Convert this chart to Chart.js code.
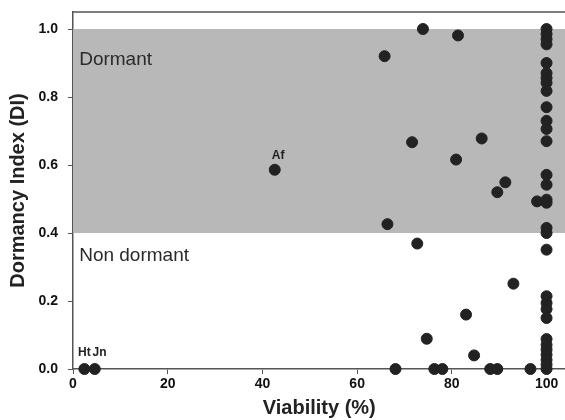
<!DOCTYPE html>
<html>
<head>
<meta charset="utf-8">
<script src="https://cdn.jsdelivr.net/npm/chart.js@4/dist/chart.umd.min.js"></script>
<style>
  html, body { margin: 0; padding: 0; background: #fff; overflow: hidden; }
  #lienzo { display: block; }
</style>
</head>
<body>
<!-- el lienzo es un poco más ancho que la ventana: el marco queda cortado a la derecha como en el original -->
<canvas id="lienzo" width="572" height="420"></canvas>
<script>
/* Datos */
var viabilidad = [2.4, 4.6, 42.6,
  65.8, 66.4, 68.1, 71.6, 72.7, 73.9, 74.7, 76.3, 78.0, 80.9, 81.3, 83.0,
  84.7, 86.3, 88.1, 89.6, 89.6, 91.3, 93.0, 96.6, 98.0,
  100, 100, 100, 100, 100, 100, 100, 100, 100, 100, 100, 100, 100, 100, 100,
  100, 100, 100, 100, 100, 100, 100, 100, 100, 100, 100, 100, 100, 100, 100, 100, 100];
var indiceDI = [0, 0, 0.586,
  0.92, 0.426, 0, 0.667, 0.369, 1.0, 0.089, 0, 0, 0.616, 0.981, 0.16,
  0.04, 0.678, 0, 0, 0.52, 0.549, 0.251, 0, 0.493,
  1.0, 0.985, 0.97, 0.955, 0.9, 0.87, 0.856, 0.842, 0.818, 0.77, 0.73, 0.706, 0.67, 0.571, 0.542,
  0.498, 0.489, 0.415, 0.4, 0.351, 0.214, 0.194, 0.176, 0.15, 0.088, 0.071, 0.057, 0.042, 0.027, 0.013, 0];

var ticksX = [0, 20, 40, 60, 80, 100];
var ticksY = [0, 0.2, 0.4, 0.6, 0.8, 1.0];

/* Franja "Dormant" (DI entre 0.4 y 1.0) */
var franjaDesde = 0.4;
var franjaHasta = 1.0;

/* Rótulos: texto, x, y (en unidades de los datos) */
var rotulos = [
  { texto: 'Dormant', x: 1.3, y: 0.91, tipo: 'zona' },
  { texto: 'Non dormant', x: 1.3, y: 0.334, tipo: 'zona' },
  { texto: 'Af', x: 43.3, y: 0.627, tipo: 'punto' },
  { texto: 'Ht', x: 2.4, y: 0.048, tipo: 'punto' },
  { texto: 'Jn', x: 5.6, y: 0.048, tipo: 'punto' }
];

var puntos = viabilidad.map(function (v, i) { return { x: v, y: indiceDI[i] }; });

var FUENTE = '"Liberation Sans", Arial, sans-serif';
var EJE = '#555';

var pluginFondo = {
  id: 'fondo',
  beforeDatasetsDraw: function (chart) {
    var ctx = chart.ctx, a = chart.chartArea, y = chart.scales.y;
    var top = y.getPixelForValue(franjaHasta), bot = y.getPixelForValue(franjaDesde);
    ctx.save();
    ctx.fillStyle = '#b8b8b8';
    ctx.fillRect(a.left, top, a.right - a.left, bot - top);
    /* línea superior del marco */
    ctx.strokeStyle = EJE;
    ctx.lineWidth = 1.5;
    ctx.beginPath();
    ctx.moveTo(a.left, a.top);
    ctx.lineTo(a.right, a.top);
    ctx.stroke();
    /* rótulos */
    var sx = chart.scales.x;
    rotulos.forEach(function (r) {
      var px = sx.getPixelForValue(r.x), py = y.getPixelForValue(r.y);
      if (r.tipo === 'zona') {
        ctx.font = '19px ' + FUENTE;
        ctx.fillStyle = '#2a2a2a';
        ctx.textAlign = 'left';
      } else {
        ctx.font = 'bold 12px ' + FUENTE;
        ctx.fillStyle = '#222';
        ctx.textAlign = 'center';
      }
      ctx.textBaseline = 'middle';
      ctx.fillText(r.texto, px, py);
    });
    ctx.restore();
  }
};

new Chart(document.getElementById('lienzo'), {
  type: 'scatter',
  data: {
    datasets: [{
      data: puntos,
      backgroundColor: '#222',
      borderColor: '#222',
      pointRadius: 5.5,
      pointHoverRadius: 5.5,
      clip: false
    }]
  },
  plugins: [pluginFondo],
  options: {
    responsive: false,
    animation: false,
    layout: { padding: { top: 12, right: 0, left: 6, bottom: 0 } },
    plugins: { legend: { display: false }, tooltip: { enabled: false } },
    scales: {
      x: {
        min: 0,
        max: 104,
        afterBuildTicks: function (s) { s.ticks = ticksX.map(function (v) { return { value: v }; }); },
        afterFit: function (s) { s.height = 51; s.paddingRight = 0; },
        ticks: { color: '#111', font: { family: FUENTE, size: 14, weight: 'bold' }, padding: 2, maxRotation: 0 },
        grid: { display: true, drawOnChartArea: false, drawTicks: true, tickLength: 5, color: EJE, lineWidth: 1 },
        border: { display: true, color: EJE, width: 1.5 },
        title: { display: true, text: 'Viability (%)', color: '#222', font: { family: FUENTE, size: 20, weight: 'bold' }, padding: { top: 0, bottom: 0 } }
      },
      y: {
        min: 0,
        max: 1.05,
        afterBuildTicks: function (s) { s.ticks = ticksY.map(function (v) { return { value: v }; }); },
        afterFit: function (s) { s.width = 67; s.paddingTop = 0; },
        ticks: {
          color: '#111', font: { family: FUENTE, size: 14, weight: 'bold' }, padding: 10,
          callback: function (v) { return Number(v).toFixed(1); }
        },
        grid: { display: true, drawOnChartArea: false, drawTicks: true, tickLength: 5, color: EJE, lineWidth: 1 },
        border: { display: true, color: EJE, width: 1.5 },
        title: { display: true, text: 'Dormancy Index (DI)', color: '#222', font: { family: FUENTE, size: 20, weight: 'bold' }, padding: { top: 0, bottom: 4 } }
      }
    }
  }
});
</script>
</body>
</html>
